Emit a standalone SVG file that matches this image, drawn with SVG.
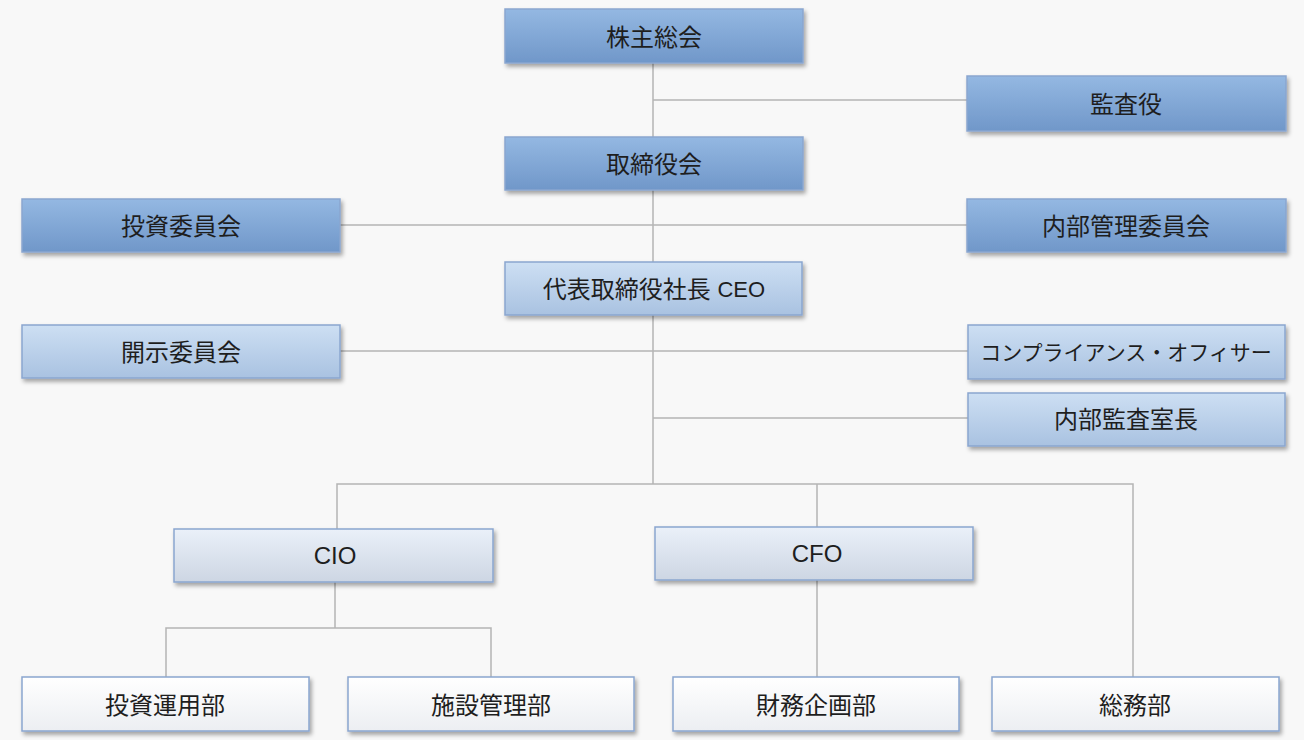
<svg xmlns="http://www.w3.org/2000/svg" width="1304" height="740" viewBox="0 0 1304 740">
<defs>
<linearGradient id="g1" x1="0" y1="0" x2="0" y2="1"><stop offset="0" stop-color="#94b8e2"/><stop offset="1" stop-color="#7097c9"/></linearGradient>
<linearGradient id="g2" x1="0" y1="0" x2="0" y2="1"><stop offset="0" stop-color="#cddff3"/><stop offset="1" stop-color="#a9c2e1"/></linearGradient>
<linearGradient id="g3" x1="0" y1="0" x2="0" y2="1"><stop offset="0" stop-color="#eaf0f9"/><stop offset="1" stop-color="#cdd6e3"/></linearGradient>
<linearGradient id="g4" x1="0" y1="0" x2="0" y2="1"><stop offset="0" stop-color="#ffffff"/><stop offset="1" stop-color="#eceef2"/></linearGradient>
<filter id="sh" x="-10%" y="-20%" width="120%" height="160%"><feDropShadow dx="2" dy="3" stdDeviation="2" flood-color="#000" flood-opacity="0.35"/></filter>
</defs>
<style>
.b{stroke:#8aa6cf;stroke-width:1.5;filter:url(#sh)}
.l1{fill:url(#g1)}.l2{fill:url(#g2)}.l3{fill:url(#g3)}.l4{fill:url(#g4)}
text{font-family:"Liberation Sans","Noto Sans CJK JP",sans-serif;font-size:24px;fill:#1e1e1e;text-anchor:middle;dominant-baseline:central}
.sm{font-size:21px}
.c{fill:none;stroke:#b4b4b4;stroke-width:1.5}
</style>
<rect width="1304" height="740" fill="#f8f8f8"/>
<g id="connectors" class="c">
<path d="M653 63V484"/>
<path d="M653 100H967"/>
<path d="M340 225H967"/>
<path d="M340 351H968"/>
<path d="M653 418H968"/>
<path d="M337 529V484H1133V677"/>
<path d="M817 484V527"/>
<path d="M335 582V628"/>
<path d="M166 677V628H491V677"/>
<path d="M817 580V677"/>
</g>
<g id="n1"><rect class="b l1" x="505" y="9" width="298" height="54"/><text x="654" y="37">株主総会</text></g>
<g id="n2"><rect class="b l1" x="967" y="76" width="319" height="55"/><text x="1126" y="104">監査役</text></g>
<g id="n3"><rect class="b l1" x="505" y="137" width="298" height="53"/><text x="654" y="164">取締役会</text></g>
<g id="n4"><rect class="b l1" x="22" y="199" width="318" height="53"/><text x="181" y="226">投資委員会</text></g>
<g id="n5"><rect class="b l1" x="967" y="199" width="319" height="53"/><text x="1126" y="226">内部管理委員会</text></g>
<g id="n6"><rect class="b l2" x="505" y="262" width="297" height="53"/><text x="654" y="289">代表取締役社長 <tspan font-size="22">CEO</tspan></text></g>
<g id="n7"><rect class="b l2" x="22" y="325" width="318" height="53"/><text x="181" y="352">開示委員会</text></g>
<g id="n8"><rect class="b l2" x="968" y="325" width="317" height="54"/><text class="sm" x="1126" y="352">コンプライアンス・オフィサー</text></g>
<g id="n9"><rect class="b l2" x="968" y="393" width="317" height="53"/><text x="1126" y="419">内部監査室長</text></g>
<g id="n10"><rect class="b l3" x="174" y="529" width="319" height="53"/><text x="335" y="555">CIO</text></g>
<g id="n11"><rect class="b l3" x="655" y="527" width="318" height="53"/><text x="817" y="553">CFO</text></g>
<g id="n12"><rect class="b l4" x="22" y="677" width="287" height="54"/><text x="165" y="705">投資運用部</text></g>
<g id="n13"><rect class="b l4" x="348" y="677" width="286" height="54"/><text x="491" y="705">施設管理部</text></g>
<g id="n14"><rect class="b l4" x="673" y="677" width="286" height="54"/><text x="816" y="705">財務企画部</text></g>
<g id="n15"><rect class="b l4" x="992" y="677" width="287" height="54"/><text x="1135" y="705">総務部</text></g>
</svg>
